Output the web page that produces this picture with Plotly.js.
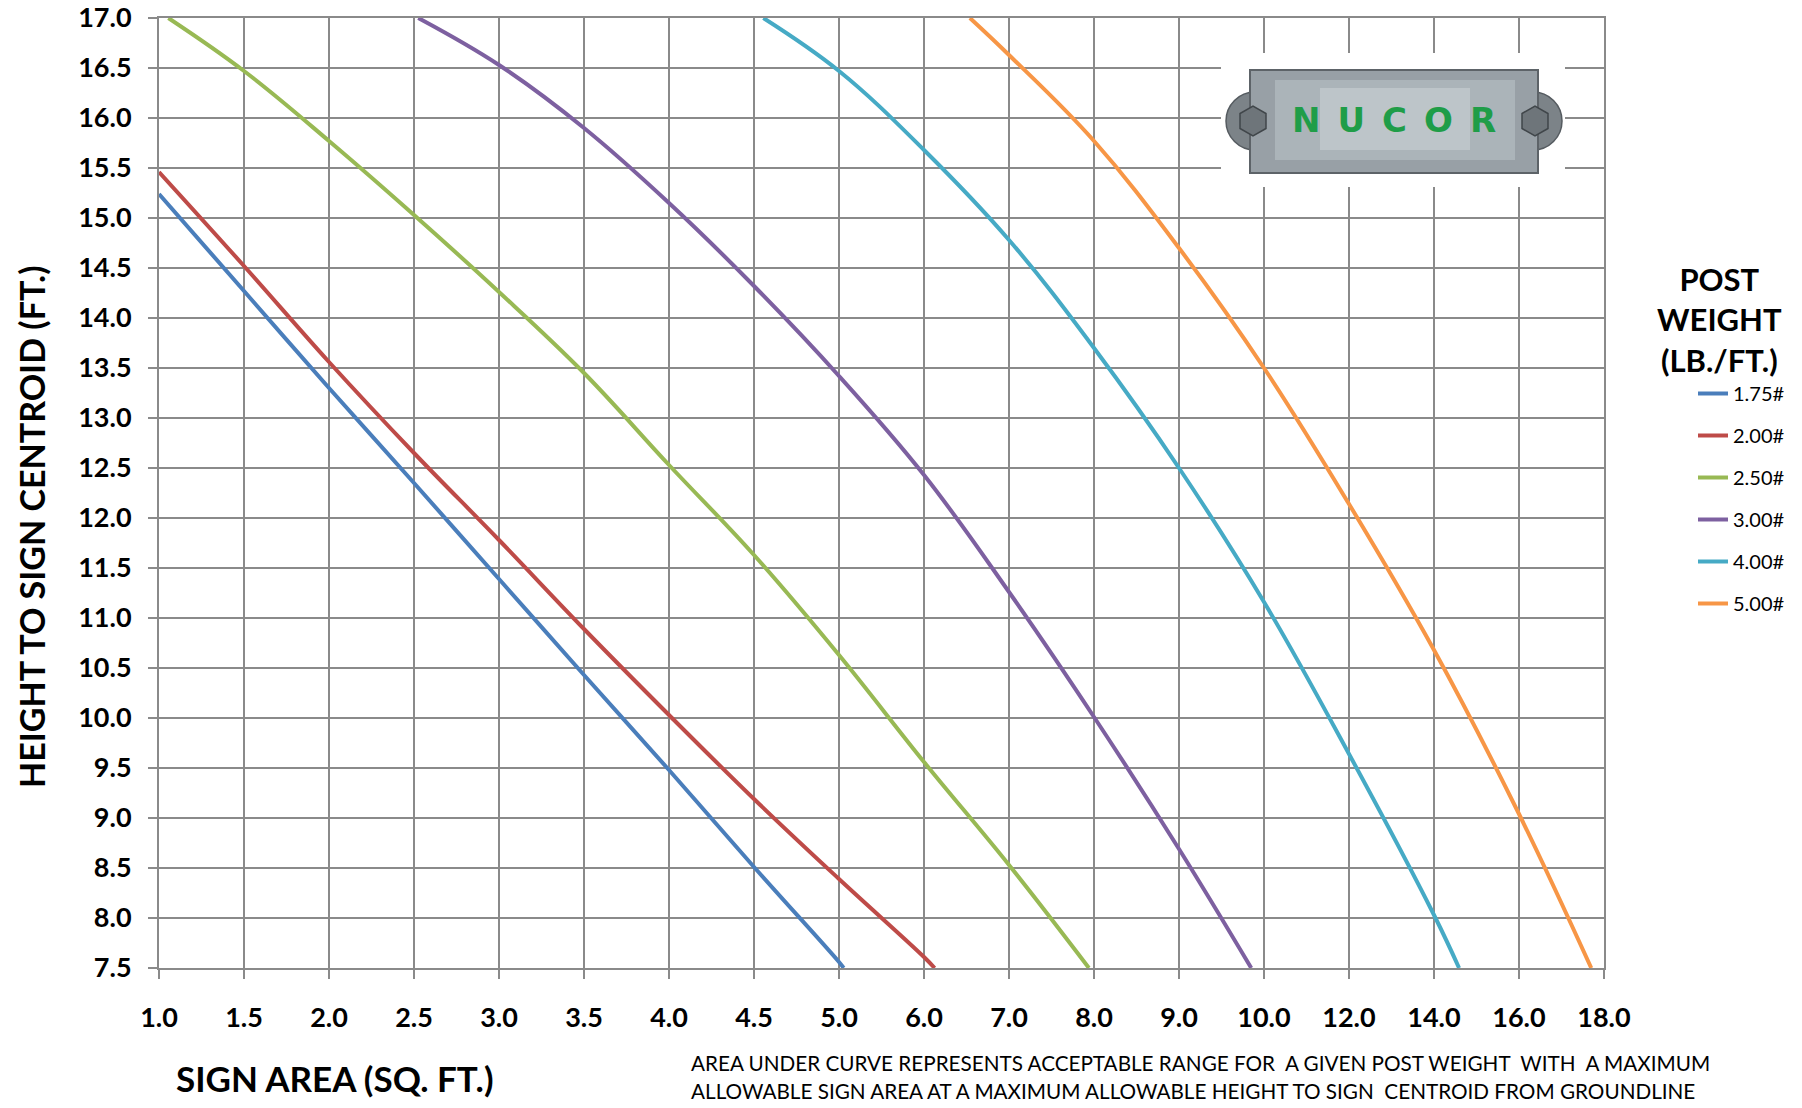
<!DOCTYPE html>
<html>
<head>
<meta charset="utf-8">
<script src="https://cdn.plot.ly/plotly-3.0.1.min.js"></script>
<style>html,body{margin:0;padding:0;background:#fff;}#chart{width:1802px;height:1108px;}</style>
</head>
<body>
<div id="chart"></div>
<script>
// ---- Data ----
const signAreaTicks = [1.0, 1.5, 2.0, 2.5, 3.0, 3.5, 4.0, 4.5, 5.0, 6.0, 7.0, 8.0, 9.0, 10.0, 12.0, 14.0, 16.0, 18.0];
const heightTicks = [7.5, 8.0, 8.5, 9.0, 9.5, 10.0, 10.5, 11.0, 11.5, 12.0, 12.5, 13.0, 13.5, 14.0, 14.5, 15.0, 15.5, 16.0, 16.5, 17.0];

const seriesNames = ["1.75#", "2.00#", "2.50#", "3.00#", "4.00#", "5.00#"];
const seriesColors = ["#4A7EBB", "#BE4B48", "#98B954", "#7D60A0", "#46AAC5", "#F79646"];

const area_175 = [1.0, 1.5, 2.0, 2.5, 3.0, 3.5, 4.0, 4.5, 5.0, 5.055];
const height_175 = [15.24, 14.27, 13.30, 12.35, 11.39, 10.43, 9.48, 8.51, 7.56, 7.5];

const area_200 = [1.0, 1.5, 2.0, 2.5, 3.0, 3.5, 4.0, 4.5, 5.0, 6.0, 6.125];
const height_200 = [15.46, 14.52, 13.56, 12.65, 11.78, 10.89, 10.03, 9.19, 8.39, 7.61, 7.5];

const area_250 = [1.055, 1.5, 2.0, 2.5, 3.0, 3.5, 4.0, 4.5, 5.0, 6.0, 7.0, 7.94];
const height_250 = [17.0, 16.47, 15.77, 15.03, 14.26, 13.45, 12.53, 11.63, 10.63, 9.56, 8.53, 7.5];

const area_300 = [2.525, 3.0, 3.5, 4.0, 4.5, 5.0, 6.0, 7.0, 8.0, 9.0, 9.85];
const height_300 = [17.0, 16.53, 15.90, 15.15, 14.32, 13.42, 12.43, 11.26, 10.01, 8.69, 7.5];

const area_400 = [4.555, 5.0, 6.0, 7.0, 8.0, 9.0, 10.0, 12.0, 14.0, 14.59];
const height_400 = [17.0, 16.47, 15.68, 14.78, 13.70, 12.50, 11.16, 9.64, 8.03, 7.5];

const area_500 = [6.54, 7.0, 8.0, 9.0, 10.0, 12.0, 14.0, 16.0, 17.70];
const height_500 = [17.0, 16.63, 15.77, 14.70, 13.50, 12.14, 10.68, 9.04, 7.5];

const seriesAreas = [area_175, area_200, area_250, area_300, area_400, area_500];
const seriesHeights = [height_175, height_200, height_250, height_300, height_400, height_500];

// ---- The chart's x axis is evenly spaced by tick (non-uniform scale) ----
function areaToPos(a) {
  const t = signAreaTicks;
  for (let i = 0; i < t.length - 1; i++) {
    if (a <= t[i + 1]) return i + (a - t[i]) / (t[i + 1] - t[i]);
  }
  return t.length - 1;
}

const FONT = "Lato, 'Open Sans', sans-serif";

const traces = seriesNames.map((name, k) => ({
  type: "scatter",
  mode: "lines",
  name: name,
  legendgroup: name,
  x: seriesAreas[k].map(areaToPos),
  y: seriesHeights[k],
  line: { color: seriesColors[k], width: 4, shape: "spline", smoothing: 1.1 },
  hoverinfo: "skip"
}));

// ---- layout helpers (pixel -> paper) ----
const ML = 159, MR = 198, MT = 18, MB = 140, W = 1802, H = 1108;
const PW = W - ML - MR, PH = H - MT - MB;
const px = (x) => (x - ML) / PW;
const py = (y) => (H - MB - y) / PH;

const GRID = "#8a8a8a";

const shapes = [
  // white backing of logo
  { type: "rect", xref: "paper", yref: "paper", x0: px(1221), x1: px(1565), y0: py(187), y1: py(53),
    fillcolor: "#ffffff", line: { width: 0 }, layer: "above" },
  // ears
  { type: "circle", xref: "paper", yref: "paper", x0: px(1226), x1: px(1284), y0: py(150), y1: py(92),
    fillcolor: "#7c8388", line: { color: "#555b60", width: 1.5 }, layer: "above" },
  { type: "circle", xref: "paper", yref: "paper", x0: px(1504), x1: px(1562), y0: py(150), y1: py(92),
    fillcolor: "#7c8388", line: { color: "#555b60", width: 1.5 }, layer: "above" },
  // plate
  { type: "rect", xref: "paper", yref: "paper", x0: px(1250), x1: px(1538), y0: py(173), y1: py(70),
    fillcolor: "#98a0a6", line: { color: "#5d6368", width: 2 }, layer: "above" },
  { type: "rect", xref: "paper", yref: "paper", x0: px(1275), x1: px(1515), y0: py(160), y1: py(80),
    fillcolor: "#c4cbd0", opacity: 0.45, line: { width: 0 }, layer: "above" },
  { type: "rect", xref: "paper", yref: "paper", x0: px(1320), x1: px(1470), y0: py(150), y1: py(88),
    fillcolor: "#d3d9dd", opacity: 0.45, line: { width: 0 }, layer: "above" }
];
// bolts (hexagons)
[1253, 1535].forEach(cx => {
  const cy = 121, r = 15;
  let d = "";
  for (let i = 0; i < 6; i++) {
    const ang = Math.PI / 3 * i + Math.PI / 6;
    const X = px(cx + r * Math.cos(ang)), Y = py(cy + r * Math.sin(ang));
    d += (i === 0 ? "M" : "L") + X + "," + Y + " ";
  }
  d += "Z";
  shapes.push({ type: "path", xref: "paper", yref: "paper", path: d,
    fillcolor: "#6e757a", line: { color: "#40464a", width: 1.5 }, layer: "above" });
});

const annotations = [
  { text: "HEIGHT TO SIGN CENTROID (FT.)", xref: "paper", yref: "paper", x: px(31), y: py(527),
    xanchor: "center", yanchor: "middle", textangle: -90, showarrow: false,
    font: { family: FONT, size: 34, color: "#000", weight: 700 } },
  { text: "SIGN AREA (SQ. FT.)", xref: "paper", yref: "paper", x: px(334), y: py(1078),
    xanchor: "center", yanchor: "middle", showarrow: false,
    font: { family: FONT, size: 35, color: "#000", weight: 700 } },
  { text: "AREA UNDER CURVE REPRESENTS ACCEPTABLE RANGE FOR  A GIVEN POST WEIGHT  WITH  A MAXIMUM",
    xref: "paper", yref: "paper", x: px(689), y: py(1063), xanchor: "left", yanchor: "middle", showarrow: false,
    font: { family: FONT, size: 20.7, color: "#000" } },
  { text: "ALLOWABLE SIGN AREA AT A MAXIMUM ALLOWABLE HEIGHT TO SIGN  CENTROID FROM GROUNDLINE",
    xref: "paper", yref: "paper", x: px(689), y: py(1091), xanchor: "left", yanchor: "middle", showarrow: false,
    font: { family: FONT, size: 20.7, color: "#000" } },
  { text: "POST<br>WEIGHT<br>(LB./FT.)", xref: "paper", yref: "paper", x: px(1720), y: py(320),
    xanchor: "center", yanchor: "middle", showarrow: false, align: "center",
    font: { family: FONT, size: 31, color: "#000", weight: 700 } },
  { text: "N\u2002U\u2002C\u2002O\u2002R", xref: "paper", yref: "paper", x: px(1394), y: py(120),
    xanchor: "center", yanchor: "middle", showarrow: false,
    font: { family: "'DejaVu Sans', sans-serif", size: 34, color: "#1f9d48", weight: 700 } }
];

const layout = {
  width: W, height: H,
  margin: { l: ML, r: MR, t: MT, b: MB, pad: 0 },
  paper_bgcolor: "#ffffff", plot_bgcolor: "#ffffff",
  showlegend: true,
  legend: {
    x: px(1693), xanchor: "left", y: py(374), yanchor: "top",
    font: { family: FONT, size: 20, color: "#000" },
    tracegroupgap: 13, bgcolor: "rgba(0,0,0,0)", borderwidth: 0
  },
  xaxis: {
    range: [0, signAreaTicks.length - 1],
    tickmode: "array",
    tickvals: signAreaTicks.map((v, i) => i),
    ticktext: signAreaTicks.map(v => v.toFixed(1)),
    showgrid: true, gridcolor: GRID, gridwidth: 1.6,
    showline: true, linecolor: GRID, linewidth: 2, mirror: true,
    ticks: "outside", ticklen: 9, tickwidth: 1.6, tickcolor: GRID,
    ticklabelstandoff: 16,
    tickfont: { family: FONT, size: 27, color: "#000", weight: 700 },
    zeroline: false, fixedrange: true
  },
  yaxis: {
    range: [7.5, 17],
    tickmode: "array",
    tickvals: heightTicks,
    ticktext: heightTicks.map(v => v.toFixed(1)),
    showgrid: true, gridcolor: GRID, gridwidth: 1.6,
    showline: true, linecolor: GRID, linewidth: 2, mirror: true,
    ticks: "outside", ticklen: 9, tickwidth: 1.6, tickcolor: GRID,
    ticklabelstandoff: 11,
    tickfont: { family: FONT, size: 27, color: "#000", weight: 700 },
    zeroline: false, fixedrange: true
  },
  shapes: shapes,
  annotations: annotations
};

Plotly.newPlot("chart", traces, layout, { staticPlot: true, displayModeBar: false });
</script>
</body>
</html>
